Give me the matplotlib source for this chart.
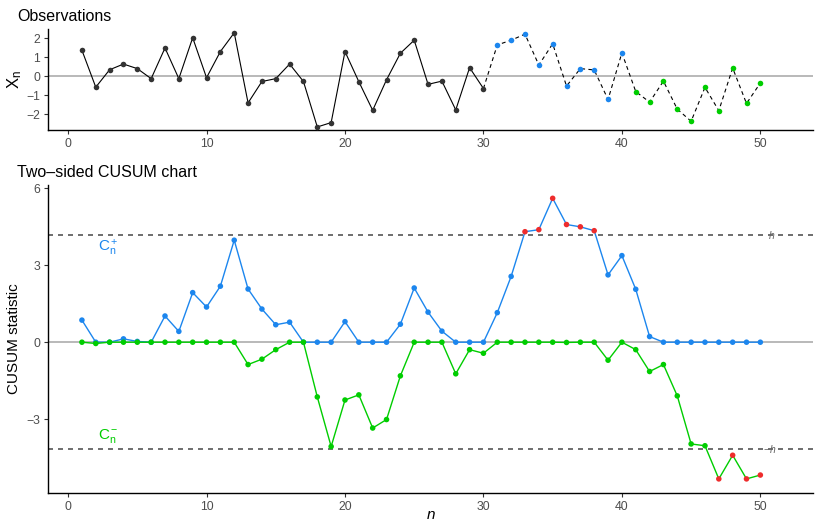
import numpy as np
import matplotlib.pyplot as plt

plt.rcParams['font.family'] = ['Liberation Sans', 'DejaVu Sans']
plt.rcParams['mathtext.fontset'] = 'custom'
plt.rcParams['mathtext.rm'] = 'Liberation Sans'
plt.rcParams['mathtext.it'] = 'Liberation Sans:italic'

n = np.arange(1, 51)

# observations X_n
obs = [1.38, -0.57, 0.35, 0.65, 0.41, -0.12, 1.50, -0.12, 2.04, -0.07,
       1.31, 2.30, -1.40, -0.27, -0.12, 0.65, -0.27, -2.67, -2.44, 1.31,
       -0.28, -1.79, -0.18, 1.22, 1.91, -0.42, -0.25, -1.77, 0.46, -0.64,
       1.66, 1.91, 2.23, 0.60, 1.72, -0.51, 0.41, 0.34, -1.22, 1.24,
       -0.80, -1.36, -0.25, -1.73, -2.37, -0.58, -1.81, 0.44, -1.43, -0.35]

# upper CUSUM C+_n
c_plus = [0.86, 0.0, 0.0, 0.13, 0.03, 0.0, 1.02, 0.42, 1.93, 1.37,
          2.18, 3.97, 2.07, 1.29, 0.68, 0.78, 0.0, 0.0, 0.0, 0.80,
          0.0, 0.0, 0.0, 0.70, 2.11, 1.17, 0.43, 0.0, 0.0, 0.0,
          1.15, 2.56, 4.30, 4.38, 5.60, 4.58, 4.49, 4.34, 2.62, 3.37,
          2.06, 0.22, 0.0, 0.0, 0.0, 0.0, 0.0, 0.0, 0.0, 0.0]

# lower CUSUM C-_n
c_minus = [0.0, -0.05, 0.0, 0.0, 0.0, 0.0, 0.0, 0.0, 0.0, 0.0,
           0.0, 0.0, -0.87, -0.66, -0.29, 0.0, 0.0, -2.13, -4.06, -2.25,
           -2.05, -3.34, -3.01, -1.31, 0.0, 0.0, 0.0, -1.23, -0.29, -0.43,
           0.0, 0.0, 0.0, 0.0, 0.0, -0.01, 0.0, 0.0, -0.70, 0.0,
           -0.29, -1.14, -0.87, -2.09, -3.96, -4.03, -5.32, -4.40, -5.32, -5.17]

h = 4.16

obs = np.array(obs)
c_plus = np.array(c_plus)
c_minus = np.array(c_minus)

blue = '#1C86EE'
green = '#00CD00'
red = '#EE2C2C'
tick_col = '#4D4D4D'

fig = plt.figure(figsize=(8.15, 5.21), dpi=100)
ax1 = fig.add_axes([0.0589, 0.7505, 0.9386, 0.1938])
ax2 = fig.add_axes([0.0589, 0.0537, 0.9386, 0.5913])


def style(ax):
    for s in ['top', 'right']:
        ax.spines[s].set_visible(False)
    for s in ['left', 'bottom']:
        ax.spines[s].set_linewidth(1.0)
        ax.spines[s].set_color('black')
    ax.tick_params(colors='#333333', labelcolor=tick_col, labelsize=8.8,
                   length=3, width=0.8, pad=2.5)
    ax.set_xlim(-1.45, 53.8)
    ax.set_xticks([0, 10, 20, 30, 40, 50])


# top panel: observations
style(ax1)
ax1.axhline(0, color='#A6A6A6', lw=1.1, zorder=1)
ax1.plot(n[:30], obs[:30], color='black', lw=0.8, zorder=2)
ax1.plot(n[29:], obs[29:], color='black', lw=0.8, ls=(0, (3.5, 3)), zorder=2)
ax1.scatter(n[:30], obs[:30], s=16, color='#333333', zorder=3, linewidths=0)
ax1.scatter(n[30:40], obs[30:40], s=16, color=blue, zorder=3, linewidths=0)
ax1.scatter(n[40:], obs[40:], s=16, color=green, zorder=3, linewidths=0)
ax1.set_ylim(-2.83, 2.5)
ax1.set_yticks([-2, -1, 0, 1, 2])
ax1.set_yticklabels(['\u22122', '\u22121', '0', '1', '2'])
ax1.set_ylabel(r'$\mathrm{X}_\mathrm{n}$', fontsize=12, labelpad=2)
ax1.set_title('Observations', loc='left', fontsize=11.5, x=-0.04, pad=6)

# bottom panel: CUSUM chart
style(ax2)
ax2.axhline(0, color='#A6A6A6', lw=1.1, zorder=1)
ax2.axhline(h, color='#555555', lw=1.2, ls=(0, (3, 3)), zorder=1)
ax2.axhline(-h, color='#555555', lw=1.2, ls=(0, (3, 3)), zorder=1)

ax2.plot(n, c_plus, color=blue, lw=1.0, zorder=2)
ax2.scatter(n, c_plus, s=16, color=np.where(c_plus > h, red, blue), zorder=3, linewidths=0)
ax2.plot(n, c_minus, color=green, lw=1.0, zorder=4)
ax2.scatter(n, c_minus, s=16, color=np.where(c_minus < -h, red, green), zorder=5, linewidths=0)

ax2.text(2.9, 3.66, r'$\mathrm{C}_\mathrm{n}^+$', color=blue, fontsize=11, ha='center', va='center')
ax2.text(2.9, -3.64, r'$\mathrm{C}_\mathrm{n}^-$', color=green, fontsize=11, ha='center', va='center')
ax2.text(50.8, h, r'$h$', color='#666666', fontsize=7.5, ha='center', va='center')
ax2.text(50.7, -h, r'$-h$', color='#666666', fontsize=7.5, ha='center', va='center')

ax2.set_ylim(-5.87, 6.12)
ax2.set_yticks([-3, 0, 3, 6])
ax2.set_yticklabels(['\u22123', '0', '3', '6'])
ax2.set_ylabel('CUSUM statistic', fontsize=11, labelpad=4)
ax2.set_xlabel(r'$n$', fontsize=11, labelpad=-3)
ax2.set_title('Two\u2013sided CUSUM chart', loc='left', fontsize=11.5, x=-0.04, pad=6)

fig.savefig('out.png', dpi=100)
